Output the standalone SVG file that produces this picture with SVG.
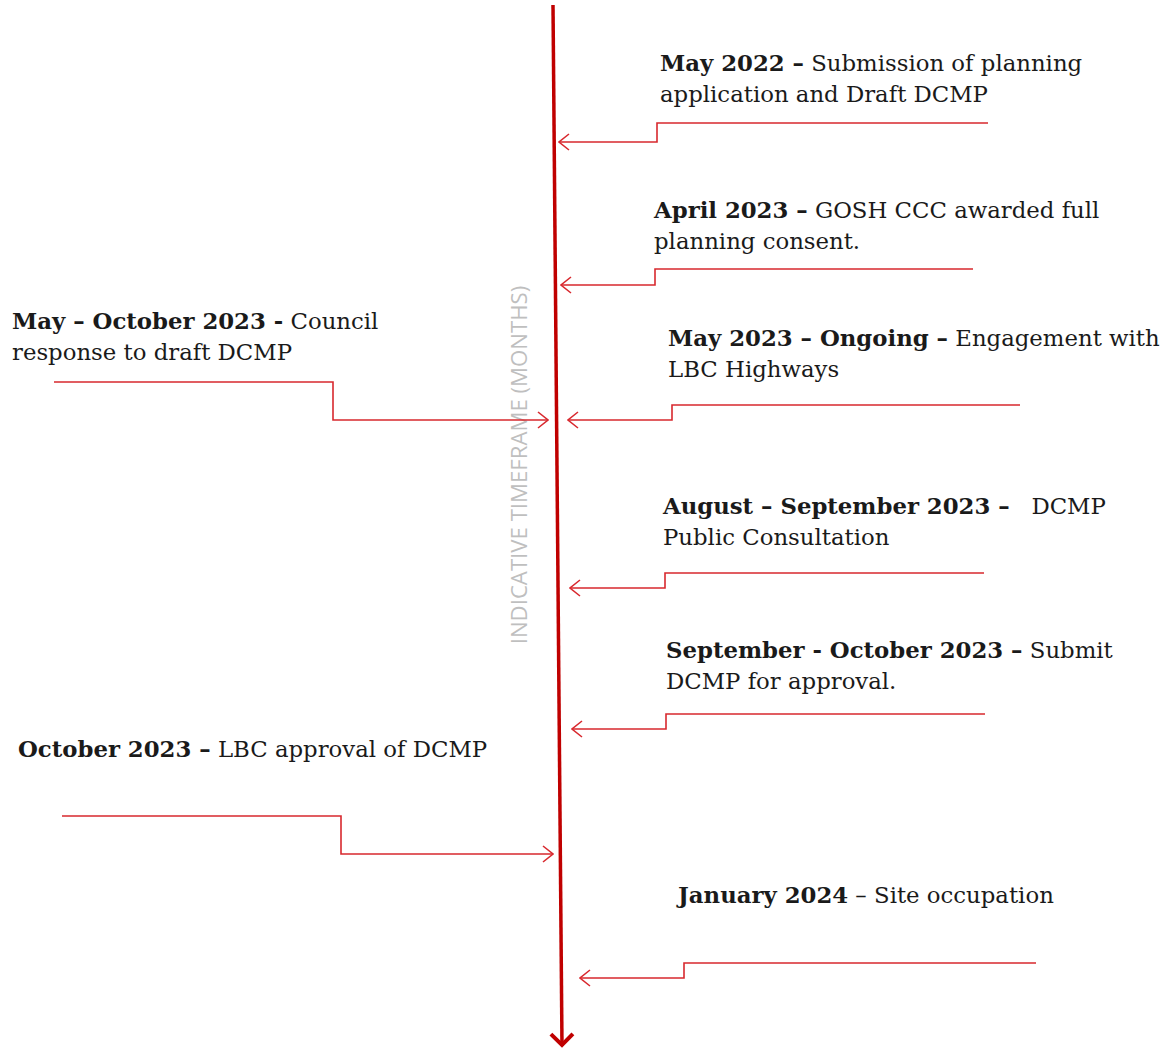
<svg xmlns="http://www.w3.org/2000/svg" width="1164" height="1051" viewBox="0 0 1164 1051">
<style>
.t{font-family:"DejaVu Serif","Liberation Serif",serif;font-size:22.8px;fill:#1a1a1a}
.b{font-weight:bold}
.c{fill:none;stroke:#d8282e;stroke-width:1.6}
.ax{font-family:"Open Sans","Liberation Sans",sans-serif;font-size:22.2px;fill:#bfbfbf}
</style>
<defs>
<marker id="ah" viewBox="0 0 12 18" refX="11" refY="9" markerWidth="12" markerHeight="18" markerUnits="userSpaceOnUse" orient="auto">
<path d="M1,1 L11,9 L1,17" fill="none" stroke="#d8282e" stroke-width="1.6"/>
</marker>
<marker id="mh" viewBox="0 0 30 30" refX="15" refY="15" markerWidth="30" markerHeight="30" markerUnits="userSpaceOnUse" orient="auto">
<path d="M3,4 L14,15 L3,26" fill="none" stroke="#c00000" stroke-width="4"/>
</marker>
</defs>
<rect width="1164" height="1051" fill="#ffffff"/>
<text class="ax" transform="translate(527,465) rotate(-90)" text-anchor="middle">INDICATIVE TIMEFRAME (MONTHS)</text>
<g id="connectors">
<line x1="553" y1="5" x2="562" y2="1046" stroke="#c00000" stroke-width="3.5" marker-end="url(#mh)"/>
<path class="c" d="M988,123 H657 V142 H559" marker-end="url(#ah)"/>
<path class="c" d="M973,269 H655 V285 H561" marker-end="url(#ah)"/>
<path class="c" d="M1020,405 H672 V420 H568" marker-end="url(#ah)"/>
<path class="c" d="M984,573 H665 V588 H570" marker-end="url(#ah)"/>
<path class="c" d="M985,714 H666 V729 H572" marker-end="url(#ah)"/>
<path class="c" d="M1036,963 H684 V978 H580" marker-end="url(#ah)"/>
<path class="c" d="M54,382 H333 V420 H548" marker-end="url(#ah)"/>
<path class="c" d="M62,816 H341 V854 H553" marker-end="url(#ah)"/>
</g>
<g id="n1"><text class="t" x="660" y="71"><tspan class="b">May 2022 –</tspan> Submission of planning</text><text class="t" x="660" y="102">application and Draft DCMP</text></g>
<g id="n2"><text class="t" x="654" y="218"><tspan class="b">April 2023 –</tspan> GOSH CCC awarded full</text><text class="t" x="654" y="249">planning consent.</text></g>
<g id="n3"><text class="t" x="12" y="329"><tspan class="b">May – October 2023 -</tspan> Council</text><text class="t" x="12" y="360">response to draft DCMP</text></g>
<g id="n4"><text class="t" x="668" y="346"><tspan class="b">May 2023 – Ongoing –</tspan> Engagement with</text><text class="t" x="668" y="377">LBC Highways</text></g>
<g id="n5"><text class="t" x="663" y="514" xml:space="preserve"><tspan class="b">August – September 2023 –</tspan>   DCMP</text><text class="t" x="663" y="545">Public Consultation</text></g>
<g id="n6"><text class="t" x="666" y="658"><tspan class="b">September - October 2023 –</tspan> Submit</text><text class="t" x="666" y="689">DCMP for approval.</text></g>
<g id="n7"><text class="t" x="18" y="757"><tspan class="b">October 2023 –</tspan> LBC approval of DCMP</text></g>
<g id="n8"><text class="t" x="678" y="903"><tspan class="b">January 2024</tspan> – Site occupation</text></g>
</svg>
